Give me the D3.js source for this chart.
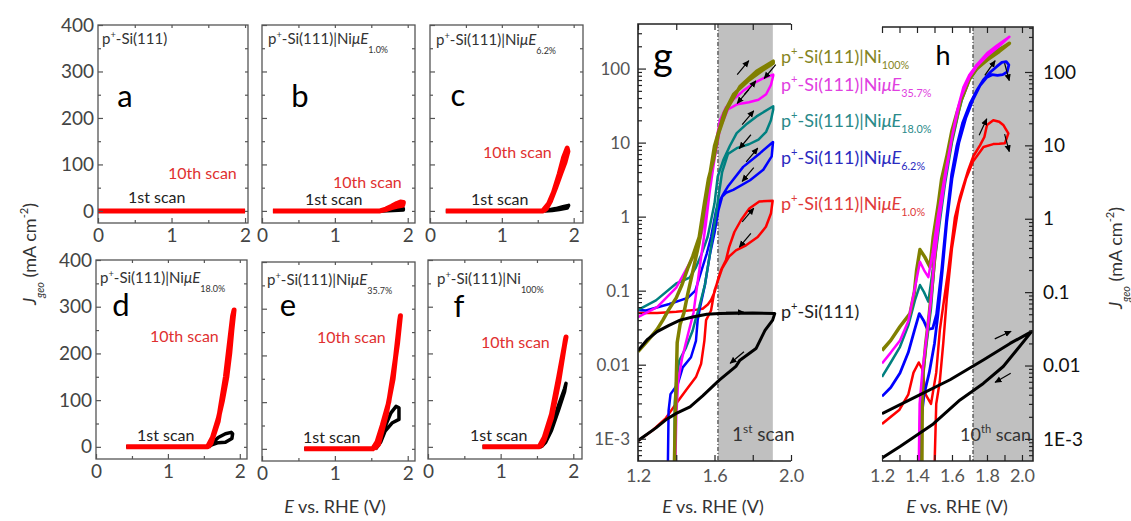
<!DOCTYPE html>
<html>
<head>
<meta charset="utf-8">
<script src="https://cdn.jsdelivr.net/npm/d3@7"></script>
<style>
  body { margin: 0; background: #fff; }
  svg text { font-family: Lato, "Open Sans", sans-serif; }
</style>
</head>
<body>
<svg id="fig" width="1131" height="521"></svg>
<script>
// ---------- data: linear panels a-f, [E (V), J (mA cm-2)] ----------
const linYTicks = [0, 100, 200, 300, 400];
const linXTicks = [0, 1, 2];

const aFirst = [[0.0, 0], [2.0, 0]];
const aTenth = [[0.0, 0], [2.0, 0]];
const bFirst = [[0.15, 0], [1.65, 0], [1.75, 2], [1.85, 4], [1.94, 5], [1.94, 2], [1.8, 1], [1.65, 0]];
const bTenth = [[0.15, 0], [1.62, 0], [1.7, 4], [1.78, 10], [1.85, 16], [1.9, 19], [1.94, 18], [1.93, 12], [1.85, 10], [1.78, 7], [1.7, 3], [1.62, 0]];
const cFirst = [[0.22, 0], [1.55, 0], [1.65, 2], [1.75, 5], [1.85, 9], [1.93, 12], [1.91, 6], [1.8, 3], [1.7, 1], [1.6, 0]];
const cTenth = [[0.22, 0], [1.57, 0], [1.65, 15], [1.72, 40], [1.8, 80], [1.86, 115], [1.91, 135], [1.92, 128], [1.88, 105], [1.82, 80], [1.75, 50], [1.68, 22], [1.62, 5], [1.58, 0]];
const dFirst = [[0.42, 0], [1.55, 0], [1.62, 8], [1.7, 20], [1.8, 28], [1.88, 31], [1.9, 28], [1.89, 18], [1.8, 10], [1.7, 9], [1.62, 5], [1.56, 0]];
const dTenth = [[0.42, 0], [1.55, 0], [1.62, 20], [1.7, 60], [1.76, 100], [1.82, 150], [1.86, 200], [1.89, 250], [1.92, 293], [1.9, 280], [1.8, 150], [1.7, 55], [1.6, 8], [1.56, 0]];
const eFirst = [[0.58, 0], [1.52, 0], [1.58, 10], [1.63, 27], [1.69, 48], [1.77, 77], [1.84, 91], [1.88, 88], [1.88, 63], [1.79, 56], [1.69, 38], [1.63, 15], [1.56, 0]];
const eTenth = [[0.58, 0], [1.52, 0], [1.58, 15], [1.65, 50], [1.74, 100], [1.8, 160], [1.86, 225], [1.9, 285], [1.89, 275], [1.8, 150], [1.7, 70], [1.6, 10], [1.54, 0]];
const fFirst = [[0.75, 0], [1.55, 0], [1.62, 15], [1.7, 45], [1.8, 90], [1.88, 125], [1.9, 136], [1.88, 118], [1.8, 80], [1.7, 35], [1.62, 10], [1.56, 0]];
const fTenth = [[0.75, 0], [1.53, 0], [1.6, 20], [1.7, 70], [1.8, 150], [1.9, 235], [1.89, 228], [1.8, 140], [1.7, 62], [1.6, 15], [1.55, 0]];

const panelLetters = ["a", "b", "c", "d", "e", "f"];
const panelSubs = [null, "1.0%", "6.2%", "18.0%", "35.7%", "100%"];

// ---------- data: log panels g (1st scan) and h (10th scan) ----------
const logTicks = [0.001, 0.01, 0.1, 1, 10, 100];
const logTickLabels = ["1E-3", "0.01", "0.1", "1", "10", "100"];
const gXTicks = [1.2, 1.6, 2.0];
const gXMinor = [1.4, 1.8];
const hXTicks = [1.2, 1.4, 1.6, 1.8, 2.0];
const hXMinor = [1.3, 1.5, 1.7, 1.9];

const gBlack = [[1.2, 0.0155], [1.25, 0.022], [1.3, 0.028], [1.362, 0.034], [1.42, 0.04], [1.486, 0.044], [1.56, 0.048], [1.625, 0.049], [1.8, 0.05], [1.915, 0.049],
  [1.904, 0.04], [1.864, 0.029], [1.817, 0.0165], [1.733, 0.0115], [1.712, 0.0095], [1.625, 0.0062], [1.538, 0.0038], [1.472, 0.0027], [1.4, 0.0022], [1.352, 0.00185], [1.294, 0.0014], [1.2, 0.00094]];
const gRed = [[1.2, 0.05], [1.3, 0.05], [1.4, 0.052], [1.5, 0.055], [1.538, 0.057], [1.565, 0.065], [1.582, 0.075], [1.6, 0.095], [1.617, 0.138], [1.634, 0.19], [1.66, 0.26], [1.677, 0.39], [1.704, 0.62], [1.739, 0.9], [1.782, 1.29], [1.834, 1.6], [1.904, 1.64],
  [1.895, 1.1], [1.869, 0.73], [1.826, 0.53], [1.765, 0.41], [1.712, 0.35], [1.677, 0.29], [1.64, 0.2], [1.6, 0.1], [1.582, 0.054], [1.556, 0.04], [1.547, 0.021], [1.53, 0.0103], [1.503, 0.0068], [1.451, 0.0045], [1.4, 0.003], [1.346, 0.0019], [1.277, 0.0013], [1.2, 0.00094]];
const gBlue = [[1.2, 0.055], [1.242, 0.054], [1.364, 0.066], [1.46, 0.08], [1.5, 0.1], [1.53, 0.18], [1.56, 0.32], [1.582, 0.53], [1.608, 1.2], [1.625, 1.6], [1.645, 2.0], [1.672, 2.6], [1.75, 4.7], [1.838, 7.2], [1.906, 10.2],
  [1.899, 6.5], [1.855, 4.3], [1.786, 3.1], [1.698, 2.3], [1.66, 2.1], [1.64, 1.86], [1.62, 1.2], [1.6, 0.6], [1.575, 0.3], [1.55, 0.12], [1.525, 0.06], [1.512, 0.04], [1.503, 0.021], [1.477, 0.0126], [1.434, 0.0092], [1.408, 0.0055], [1.37, 0.004], [1.36, 0.0024], [1.356, 0.0004]];
const gTeal = [[1.2, 0.055], [1.294, 0.074], [1.4, 0.125], [1.47, 0.15], [1.5, 0.2], [1.53, 0.3], [1.564, 0.53], [1.6, 1.5], [1.617, 3.5], [1.646, 5.8], [1.68, 9], [1.716, 13.4], [1.77, 18], [1.82, 22.6], [1.907, 31],
  [1.907, 28], [1.895, 20], [1.87, 14], [1.83, 11], [1.78, 9.5], [1.72, 8.5], [1.67, 7], [1.64, 4], [1.62, 1.8], [1.6, 0.8], [1.575, 0.3], [1.55, 0.12], [1.52, 0.06], [1.5, 0.04], [1.486, 0.029], [1.451, 0.017], [1.416, 0.0114], [1.4, 0.006], [1.392, 0.003], [1.39, 0.0004]];
const gMagenta = [[1.2, 0.044], [1.3, 0.06], [1.4, 0.11], [1.468, 0.23], [1.503, 0.35], [1.53, 0.55], [1.547, 0.9], [1.565, 2], [1.582, 4.3], [1.6, 8], [1.629, 20], [1.66, 30], [1.698, 38], [1.75, 50], [1.803, 63], [1.86, 75], [1.907, 83],
  [1.907, 80], [1.895, 60], [1.87, 45], [1.83, 38], [1.78, 35], [1.72, 33], [1.67, 28], [1.63, 16], [1.6, 6], [1.575, 2.2], [1.555, 0.8], [1.535, 0.35], [1.51, 0.12], [1.49, 0.05], [1.46, 0.025], [1.43, 0.012], [1.41, 0.006], [1.4, 0.002], [1.395, 0.0004]];
const gOlive = [[1.2, 0.015], [1.25, 0.021], [1.3, 0.03], [1.33, 0.04], [1.36, 0.055], [1.4, 0.08], [1.43, 0.12], [1.46, 0.2], [1.486, 0.29], [1.52, 0.53], [1.547, 1.5], [1.568, 3.2], [1.594, 5.8], [1.62, 13], [1.664, 28], [1.733, 57], [1.82, 92], [1.907, 126],
  [1.907, 118], [1.85, 95], [1.78, 70], [1.7, 45], [1.65, 25], [1.6, 9], [1.57, 3], [1.545, 1.2], [1.52, 0.45], [1.49, 0.2], [1.46, 0.09], [1.44, 0.05], [1.42, 0.035], [1.405, 0.02], [1.4, 0.006], [1.395, 0.002], [1.39, 0.0004]];

const hBlack = [[1.2, 0.0022], [1.398, 0.0038], [1.589, 0.0064], [1.779, 0.0119], [1.932, 0.02], [2.055, 0.029],
  [1.97, 0.0163], [1.893, 0.0097], [1.779, 0.0057], [1.646, 0.0034], [1.493, 0.0016], [1.303, 0.00079], [1.2, 0.00055]];
const hRed = [[1.2, 0.0016], [1.3, 0.0025], [1.35, 0.004], [1.38, 0.008], [1.41, 0.011], [1.43, 0.009], [1.45, 0.004], [1.48, 0.003], [1.51, 0.008], [1.531, 0.031], [1.555, 0.08], [1.579, 0.2], [1.6, 0.5], [1.617, 1.05], [1.646, 2.0], [1.69, 4.4], [1.722, 7.1], [1.76, 10], [1.785, 13], [1.8, 19], [1.836, 22], [1.87, 21], [1.893, 19], [1.922, 14.6],
  [1.903, 10.7], [1.87, 10.5], [1.836, 10.4], [1.78, 9.5], [1.72, 6], [1.68, 3.5], [1.64, 1.6], [1.6, 0.4], [1.57, 0.08], [1.55, 0.02], [1.53, 0.006], [1.51, 0.003], [1.5, 0.0004]];
const hBlue = [[1.2, 0.0038], [1.25, 0.005], [1.303, 0.0079], [1.35, 0.015], [1.385, 0.03], [1.413, 0.051], [1.44, 0.04], [1.46, 0.031], [1.49, 0.032], [1.512, 0.05], [1.541, 0.2], [1.57, 1.05], [1.598, 4.0], [1.627, 9.6], [1.66, 20], [1.703, 37], [1.74, 55], [1.779, 78], [1.82, 100], [1.855, 118], [1.885, 135], [1.91, 138], [1.925, 125],
  [1.915, 100], [1.89, 92], [1.86, 90], [1.83, 92], [1.8, 85], [1.76, 65], [1.72, 42], [1.68, 24], [1.64, 11], [1.6, 3.5], [1.57, 0.9], [1.545, 0.2], [1.52, 0.05], [1.5, 0.02], [1.47, 0.008], [1.44, 0.004], [1.42, 0.0015], [1.415, 0.0004]];
const hTeal = [[1.2, 0.007], [1.25, 0.011], [1.303, 0.018], [1.35, 0.035], [1.39, 0.08], [1.417, 0.125], [1.44, 0.1], [1.465, 0.074], [1.49, 0.2], [1.52, 0.8], [1.56, 3.5], [1.6, 11], [1.63, 24], [1.665, 50], [1.7, 82], [1.75, 120], [1.8, 160], [1.86, 200], [1.925, 240],
  [1.86, 190], [1.8, 150], [1.74, 108], [1.7, 78], [1.65, 38], [1.6, 11], [1.56, 3], [1.53, 0.9], [1.5, 0.25], [1.48, 0.06], [1.455, 0.02], [1.43, 0.006], [1.418, 0.002], [1.415, 0.0004]];
const hMagenta = [[1.2, 0.0107], [1.25, 0.015], [1.303, 0.022], [1.35, 0.04], [1.39, 0.12], [1.417, 0.26], [1.44, 0.2], [1.465, 0.16], [1.49, 0.35], [1.52, 1.1], [1.56, 4], [1.6, 13], [1.63, 30], [1.665, 62], [1.7, 92], [1.741, 125], [1.8, 180], [1.855, 228], [1.928, 302],
  [1.86, 215], [1.8, 165], [1.74, 118], [1.7, 85], [1.65, 45], [1.6, 13], [1.56, 3.5], [1.53, 1.1], [1.5, 0.3], [1.48, 0.08], [1.455, 0.025], [1.43, 0.008], [1.415, 0.003], [1.41, 0.0004]];
const hOlive = [[1.2, 0.016], [1.25, 0.022], [1.303, 0.034], [1.36, 0.051], [1.385, 0.1], [1.398, 0.2], [1.417, 0.38], [1.445, 0.3], [1.474, 0.22], [1.493, 0.57], [1.522, 1.6], [1.541, 3.5], [1.57, 7], [1.6, 16], [1.627, 27], [1.665, 52], [1.703, 86], [1.76, 125], [1.817, 161], [1.87, 200], [1.928, 246],
  [1.87, 190], [1.8, 145], [1.74, 110], [1.7, 80], [1.65, 40], [1.6, 13], [1.56, 4], [1.53, 1.3], [1.51, 0.5], [1.49, 0.15], [1.47, 0.05], [1.45, 0.02], [1.435, 0.008], [1.43, 0.003], [1.428, 0.0004]];

// arrows: [E, J, direction in degrees]
const gArrows = [[1.749, 103, -50], [1.89, 91, 130], [1.786, 55, -50], [1.749, 42, 130], [1.775, 21.7, -50], [1.76, 10.3, 130],
  [1.796, 6.8, -50], [1.775, 3.7, 130], [1.775, 1.05, -50], [1.76, 0.48, 130], [1.707, 0.051, 0], [1.718, 0.0125, 140]];
const hArrows = [[1.817, 113, -55], [1.914, 100, 75], [1.777, 17.8, -65], [1.914, 10.8, 75], [1.891, 0.026, -25], [1.891, 0.0068, 150]];

const seriesColors = { black: "#000", red: "#ff0000", blue: "#0000ff", teal: "#008080", magenta: "#ff00ff", olive: "#808000" };

// ---------- drawing ----------
const svg = d3.select("#fig");
const defs = svg.append("defs");
defs.append("marker").attr("id", "ah").attr("viewBox", "0 0 10 10")
  .attr("refX", 9).attr("refY", 5).attr("markerWidth", 7).attr("markerHeight", 7)
  .attr("markerUnits", "userSpaceOnUse").attr("orient", "auto")
  .append("path").attr("d", "M0,0.5 L10,5 L0,9.5 z").attr("fill", "#000");

function rich(parent, x, y, segs, size, fill, anchor, subShift) {
  const t = parent.append("text").attr("x", x).attr("y", y)
    .attr("font-size", size).attr("fill", fill).attr("text-anchor", anchor || "start");
  let shift = 0;
  segs.forEach(([s, k]) => {
    let target = 0, fs = size;
    if (k.includes("sup")) { target = -size * 0.42; fs = size * 0.62; }
    if (k.includes("sub")) { target = size * (subShift || 0.42); fs = size * 0.6; }
    t.append("tspan").attr("dy", target - shift).attr("font-size", fs)
      .attr("font-style", k.startsWith("i") ? "italic" : null).text(s);
    shift = target;
  });
  return t;
}

function sampleSegs(sub) {
  if (sub === null) return [["p", ""], ["+", "sup"], ["-Si(111)", ""]];
  if (sub === "100%") return [["p", ""], ["+", "sup"], ["-Si(111)|Ni", ""], [sub, "sub"]];
  return [["p", ""], ["+", "sup"], ["-Si(111)|Ni", ""], ["\u03bcE", "i"], [sub, "sub"]];
}

const xTitle = [["E", "i"], [" vs. RHE (V)", ""]];
const yTitle = [["J", "i"], ["geo", "isub"], [" (mA cm", ""], ["-2", "sup"], [")", ""]];

// layout for the six linear panels
const linLayout = [
  { x0: 98, x1: 248, y0: 25, y1: 223, xMax: 2.04, yLab: true, letter: [125, 107], tenth: [168, 179], first: [128, 203], title: [102, 44] },
  { x0: 262, x1: 415, y0: 25, y1: 223, xMax: 2.1, yLab: false, letter: [300, 107], tenth: [333, 188], first: [305, 205], title: [268, 44] },
  { x0: 430, x1: 583, y0: 25, y1: 223, xMax: 2.13, yLab: false, letter: [458, 106], tenth: [483, 158], first: [471, 205], title: [436, 45] },
  { x0: 96, x1: 247, y0: 260, y1: 459, xMax: 2.1, yLab: true, letter: [121, 316], tenth: [150, 342], first: [137, 441], title: [100, 283] },
  { x0: 262, x1: 415, y0: 262, y1: 461, xMax: 2.1, yLab: false, letter: [288, 316], tenth: [317, 343], first: [303, 443], title: [267, 285] },
  { x0: 428, x1: 582, y0: 260, y1: 459, xMax: 2.12, yLab: false, letter: [459, 317], tenth: [481, 348], first: [470, 441], title: [437, 284] }
];
const linData = [[aFirst, aTenth], [bFirst, bTenth], [cFirst, cTenth], [dFirst, dTenth], [eFirst, eTenth], [fFirst, fTenth]];

function styleAxis(sel, color) {
  sel.select(".domain").remove();
  sel.selectAll("line").attr("stroke", color).attr("stroke-width", 1.2);
}

linLayout.forEach((L, i) => {
  const g = svg.append("g");
  const x = d3.scaleLinear().domain([0, L.xMax]).range([L.x0, L.x1]);
  const y = d3.scaleLinear().domain([-26, 400]).range([L.y1, L.y0]);
  const line = d3.line().x(d => x(d[0])).y(d => y(d[1]));
  const [first, tenth] = linData[i];

  g.append("path").attr("d", line(first)).attr("fill", "none").attr("stroke", "#000")
    .attr("stroke-width", 3.5).attr("stroke-linejoin", "round");
  g.append("path").attr("d", line(tenth)).attr("fill", "none").attr("stroke", "#ff0000")
    .attr("stroke-width", 5).attr("stroke-linejoin", "round");

  // ticks (inward) on all four sides
  const left = g.append("g").attr("transform", `translate(${L.x0},0)`)
    .call(d3.axisLeft(y).tickValues(linYTicks).tickSize(-5).tickSizeOuter(0).tickPadding(4)
      .tickFormat(L.yLab ? d3.format("d") : ""));
  styleAxis(left, "#555");
  left.selectAll("text").attr("font-size", 19).attr("fill", "#444");
  const leftMinor = g.append("g").attr("transform", `translate(${L.x0},0)`)
    .call(d3.axisLeft(y).tickValues([50, 150, 250, 350]).tickSize(-3).tickFormat(""));
  styleAxis(leftMinor, "#555");
  const right = g.append("g").attr("transform", `translate(${L.x1},0)`)
    .call(d3.axisRight(y).tickValues([0, 50, 100, 150, 200, 250, 300, 350]).tickSize(-3).tickFormat(""));
  styleAxis(right, "#555");
  const bottom = g.append("g").attr("transform", `translate(0,${L.y1})`)
    .call(d3.axisBottom(x).tickValues(linXTicks).tickSize(-5).tickSizeOuter(0).tickPadding(5).tickFormat(d3.format("d")));
  styleAxis(bottom, "#555");
  bottom.selectAll("text").attr("font-size", 19).attr("fill", "#444").attr("dy", "0.72em");
  const bottomMinor = g.append("g").attr("transform", `translate(0,${L.y1})`)
    .call(d3.axisBottom(x).tickValues([0.5, 1.5]).tickSize(-3).tickFormat(""));
  styleAxis(bottomMinor, "#555");
  const top = g.append("g").attr("transform", `translate(0,${L.y0})`)
    .call(d3.axisTop(x).tickValues([0.5, 1, 1.5, 2]).tickSize(-3).tickFormat(""));
  styleAxis(top, "#555");

  g.append("rect").attr("x", L.x0).attr("y", L.y0).attr("width", L.x1 - L.x0).attr("height", L.y1 - L.y0)
    .attr("fill", "none").attr("stroke", "#555").attr("stroke-width", 1.3);

  rich(g, L.title[0], L.title[1], sampleSegs(panelSubs[i]), 15, "#333", "start", 0.6);
  g.append("text").attr("x", L.letter[0]).attr("y", L.letter[1]).attr("text-anchor", "middle")
    .attr("font-size", 31).attr("fill", "#000").text(panelLetters[i]);
  g.append("text").attr("x", L.tenth[0]).attr("y", L.tenth[1]).attr("font-size", 16)
    .attr("fill", "#e03030").text("10th scan");
  g.append("text").attr("x", L.first[0]).attr("y", L.first[1]).attr("font-size", 16)
    .attr("fill", "#222").text("1st scan");
});

rich(svg, 335, 513, xTitle, 18, "#333", "middle");
rich(svg.append("g").attr("transform", "translate(36,254) rotate(-90)"), 0, 0, yTitle, 18, "#333", "middle");

// ---------- log panels ----------
function logPanel(P) {
  const g = svg.append("g");
  const x = d3.scaleLinear().domain(P.xDomain).range([P.x0, P.x1]);
  const y = d3.scaleLog().domain(P.yDomain).range([P.y1, P.y0]);
  const clipId = "clip-" + P.id;
  defs.append("clipPath").attr("id", clipId).append("rect")
    .attr("x", P.x0).attr("y", P.y0).attr("width", P.x1 - P.x0).attr("height", P.y1 - P.y0);

  g.append("rect").attr("x", x(P.band[0])).attr("y", P.y0)
    .attr("width", x(P.band[1]) - x(P.band[0])).attr("height", P.y1 - P.y0).attr("fill", "#c0c0c0");
  g.append("line").attr("x1", x(P.band[0])).attr("x2", x(P.band[0])).attr("y1", P.y0).attr("y2", P.y1)
    .attr("stroke", "#222").attr("stroke-width", 1).attr("stroke-dasharray", "4,2,1,2");

  const line = d3.line().x(d => x(d[0])).y(d => y(Math.max(d[1], P.yDomain[0] * 0.8)));
  const curves = g.append("g").attr("clip-path", `url(#${clipId})`);
  P.series.forEach(s => {
    curves.append("path").attr("d", line(s.data)).attr("fill", "none").attr("stroke", seriesColors[s.color])
      .attr("stroke-width", s.w).attr("stroke-linejoin", "round");
  });

  P.arrows.forEach(a => {
    g.append("path").attr("d", "M-9,0 L9,0")
      .attr("transform", `translate(${x(a[0])},${y(a[1])}) rotate(${a[2]})`)
      .attr("stroke", "#000").attr("stroke-width", 1.2).attr("marker-end", "url(#ah)");
  });

  // y axis with major + minor log ticks (inward)
  const minors = [];
  for (let e = -4; e <= 2; e++) for (let k = 2; k <= 9; k++) {
    const v = k * Math.pow(10, e);
    if (v > P.yDomain[0] && v < P.yDomain[1]) minors.push(v);
  }
  const side = P.yRight ? d3.axisRight : d3.axisLeft;
  const ax = P.yRight ? P.x1 : P.x0;
  const yMaj = g.append("g").attr("transform", `translate(${ax},0)`)
    .call(side(y).tickValues(logTicks).tickSize(-8).tickSizeOuter(0).tickPadding(P.yRight ? 10 : 8)
      .tickFormat((d, i) => logTickLabels[i]));
  styleAxis(yMaj, "#222");
  yMaj.selectAll("text").attr("font-size", P.yFont).attr("fill", P.yColor).attr("font-family", P.yFamily);
  const yMin = g.append("g").attr("transform", `translate(${ax},0)`)
    .call(side(y).tickValues(minors).tickSize(-4).tickFormat(""));
  styleAxis(yMin, "#222");

  const xb = g.append("g").attr("transform", `translate(0,${P.y1})`)
    .call(d3.axisBottom(x).tickValues(P.xTicks).tickSize(-6).tickSizeOuter(0).tickPadding(8).tickFormat(d3.format(".1f")));
  styleAxis(xb, "#222");
  xb.selectAll("text").attr("font-size", 18).attr("fill", "#555").attr("dy", "0.72em");
  const xbm = g.append("g").attr("transform", `translate(0,${P.y1})`)
    .call(d3.axisBottom(x).tickValues(P.xMinor).tickSize(-6).tickFormat(""));
  styleAxis(xbm, "#222");
  const xt = g.append("g").attr("transform", `translate(0,${P.y0})`)
    .call(d3.axisTop(x).tickValues(P.xTicks.concat(P.xMinor)).tickSize(-6).tickFormat(""));
  styleAxis(xt, "#222");

  // axis lines: left/top/bottom for g, right/top/bottom for h
  const frame = P.yRight
    ? `M${P.x0},${P.y0}H${P.x1}V${P.y1}H${P.x0}`
    : `M${P.x1},${P.y0}H${P.x0}V${P.y1}H${P.x1}`;
  g.append("path").attr("d", frame).attr("fill", "none").attr("stroke", "#222").attr("stroke-width", 1.6);
  return g;
}

const gPanel = logPanel({
  id: "g", x0: 638, x1: 791, y0: 24, y1: 461, xDomain: [1.2, 2.0], yDomain: [5e-4, 400],
  band: [1.618, 1.905], xTicks: gXTicks, xMinor: gXMinor, yRight: false,
  yFont: 17, yColor: "#555", yFamily: "Lato, sans-serif",
  series: [
    { data: gRed, color: "red", w: 2.5 }, { data: gBlue, color: "blue", w: 2.5 },
    { data: gTeal, color: "teal", w: 2.5 }, { data: gMagenta, color: "magenta", w: 2.5 },
    { data: gOlive, color: "olive", w: 3.5 }, { data: gBlack, color: "black", w: 3 }
  ],
  arrows: gArrows
});
gPanel.append("text").attr("x", 663).attr("y", 70).attr("text-anchor", "middle")
  .attr("font-family", "'Liberation Serif', serif").attr("font-size", 38).text("g");
rich(gPanel, 732, 441, [["1", ""], ["st", "sup"], [" scan", ""]], 19, "#333", "start");

const hPanel = logPanel({
  id: "h", x0: 882, x1: 1033, y0: 27, y1: 461, xDomain: [1.2, 2.063], yDomain: [5e-4, 410],
  band: [1.72, 2.063], xTicks: hXTicks, xMinor: hXMinor, yRight: true,
  yFont: 19, yColor: "#111", yFamily: "'Liberation Sans', Arial, sans-serif",
  series: [
    { data: hRed, color: "red", w: 2.5 }, { data: hBlue, color: "blue", w: 2.8 },
    { data: hTeal, color: "teal", w: 2.5 }, { data: hOlive, color: "olive", w: 3.5 },
    { data: hMagenta, color: "magenta", w: 2.5 }, { data: hBlack, color: "black", w: 3 }
  ],
  arrows: hArrows
});
hPanel.append("text").attr("x", 943).attr("y", 65).attr("text-anchor", "middle")
  .attr("font-family", "'Liberation Sans', Arial, sans-serif").attr("font-size", 27).text("h");
rich(hPanel, 960, 441, [["10", ""], ["th", "sup"], [" scan", ""]], 18, "#333", "start");

rich(svg, 713, 513, xTitle, 18, "#333", "middle");
rich(svg, 957, 513, xTitle, 18, "#333", "middle");
rich(svg.append("g").attr("transform", "translate(1122,258) rotate(-90)"), 0, 0, yTitle, 18, "#333", "middle");

// series labels beside panel g
const seriesLabels = [
  { sub: "100%", color: "#85851f", y: 63 },
  { sub: "35.7%", color: "#e040e0", y: 91 },
  { sub: "18.0%", color: "#2a8a8a", y: 127 },
  { sub: "6.2%", color: "#2b2bc0", y: 164 },
  { sub: "1.0%", color: "#e03a3a", y: 210 },
  { sub: null, color: "#222", y: 318 }
];
seriesLabels.forEach(s => rich(svg, 781, s.y, sampleSegs(s.sub), 18, s.color, "start", 0.36));
</script>
</body>
</html>
